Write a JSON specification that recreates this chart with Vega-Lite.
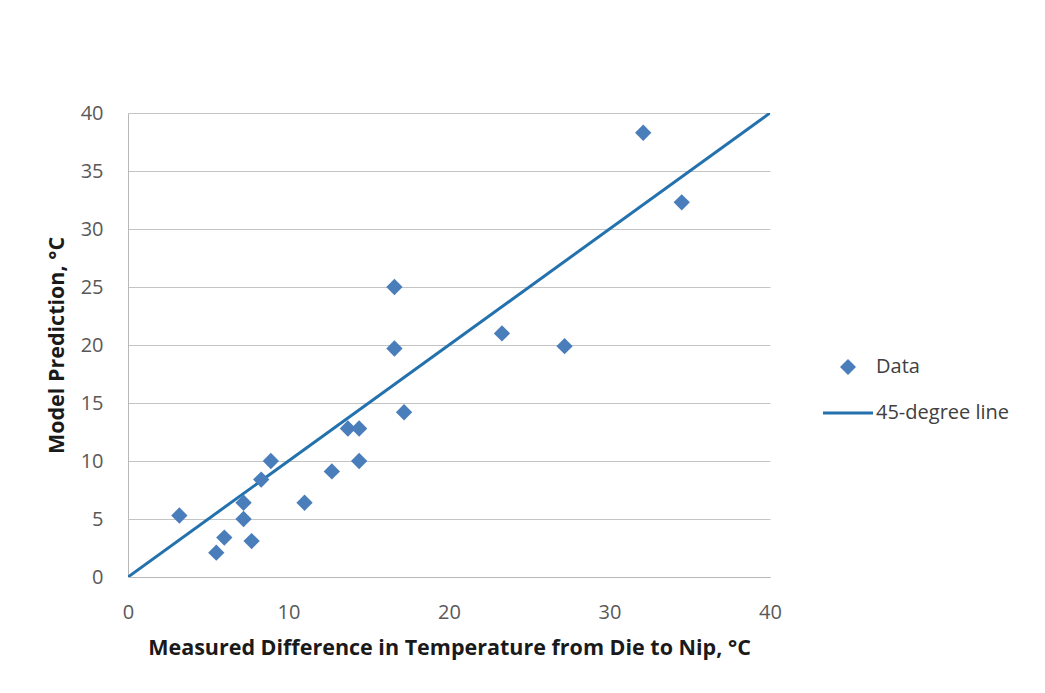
{
  "$schema": "https://vega.github.io/schema/vega-lite/v6.json",
  "width": 642,
  "height": 464,
  "autosize": {"type": "none"},
  "padding": {"left": 128, "top": 113, "right": 275, "bottom": 116},
  "background": "white",
  "config": {
    "view": {"stroke": null},
    "font": "Open Sans",
    "axis": {
      "labelFont": "Open Sans",
      "labelFontSize": 20,
      "labelColor": "#595959",
      "labelFlush": false,
      "titleFont": "Open Sans",
      "titleFontSize": 21.5,
      "titleFontWeight": "bold",
      "titleColor": "#1a1a1a",
      "domainColor": "#b8b8b8",
      "gridColor": "#c4c4c4",
      "ticks": false
    }
  },
  "datasets": {
    "points": [
      {"measured": 3.2, "predicted": 5.3},
      {"measured": 5.5, "predicted": 2.1},
      {"measured": 6.0, "predicted": 3.4},
      {"measured": 7.2, "predicted": 6.4},
      {"measured": 7.2, "predicted": 5.0},
      {"measured": 7.7, "predicted": 3.1},
      {"measured": 8.3, "predicted": 8.4},
      {"measured": 8.9, "predicted": 10.0},
      {"measured": 11.0, "predicted": 6.4},
      {"measured": 12.7, "predicted": 9.1},
      {"measured": 13.7, "predicted": 12.8},
      {"measured": 14.4, "predicted": 12.8},
      {"measured": 14.4, "predicted": 10.0},
      {"measured": 16.6, "predicted": 25.0},
      {"measured": 16.6, "predicted": 19.7},
      {"measured": 17.2, "predicted": 14.2},
      {"measured": 23.3, "predicted": 21.0},
      {"measured": 27.2, "predicted": 19.9},
      {"measured": 32.1, "predicted": 38.3},
      {"measured": 34.5, "predicted": 32.3}
    ],
    "line": [
      {"measured": 0, "predicted": 0},
      {"measured": 40, "predicted": 40}
    ]
  },
  "layer": [
    {
      "data": {"name": "line"},
      "mark": {"type": "line", "color": "#2371ad", "strokeWidth": 3, "clip": true},
      "encoding": {
        "x": {"field": "measured", "type": "quantitative"},
        "y": {"field": "predicted", "type": "quantitative"}
      }
    },
    {
      "data": {"name": "points"},
      "mark": {"type": "point", "filled": true, "opacity": 1, "size": 2600},
      "encoding": {
        "x": {
          "field": "measured",
          "type": "quantitative",
          "scale": {"domain": [0, 40], "nice": false, "zero": false},
          "axis": {
            "values": [0, 10, 20, 30, 40],
            "grid": false,
            "labelPadding": 25,
            "title": "Measured Difference in Temperature from Die to Nip, °C",
            "titlePadding": 15
          }
        },
        "y": {
          "field": "predicted",
          "type": "quantitative",
          "scale": {"domain": [0, 40], "nice": false, "zero": false},
          "axis": {
            "values": [0, 5, 10, 15, 20, 25, 30, 35, 40],
            "grid": true,
            "labelPadding": 25,
            "title": "Model Prediction, °C",
            "titlePadding": 12
          }
        },
        "color": {
          "datum": "Data",
          "type": "nominal",
          "scale": {"domain": ["Data", "45-degree line"], "range": ["#4a7ebb", "#2371ad"]},
          "legend": {
            "title": null,
            "orient": "none",
            "legendX": 695,
            "legendY": 229,
            "padding": 0,
            "symbolSize": 2500,
            "labelFontSize": 20,
            "labelFont": "Open Sans",
            "labelColor": "#404040",
            "labelOffset": 3,
            "rowPadding": 11,
            "symbolStrokeWidth": 0
          }
        },
        "shape": {
          "datum": "Data",
          "type": "nominal",
          "scale": {
            "domain": ["Data", "45-degree line"],
            "range": ["M0,-0.32L0.32,0L0,0.32L-0.32,0Z", "M-1,-0.06H1V0.06H-1Z"]
          },
          "legend": {
            "title": null,
            "orient": "none",
            "legendX": 695,
            "legendY": 229,
            "padding": 0,
            "symbolSize": 2500,
            "labelFontSize": 20,
            "labelFont": "Open Sans",
            "labelColor": "#404040",
            "labelOffset": 3,
            "rowPadding": 11,
            "symbolStrokeWidth": 0
          }
        }
      }
    }
  ]
}
